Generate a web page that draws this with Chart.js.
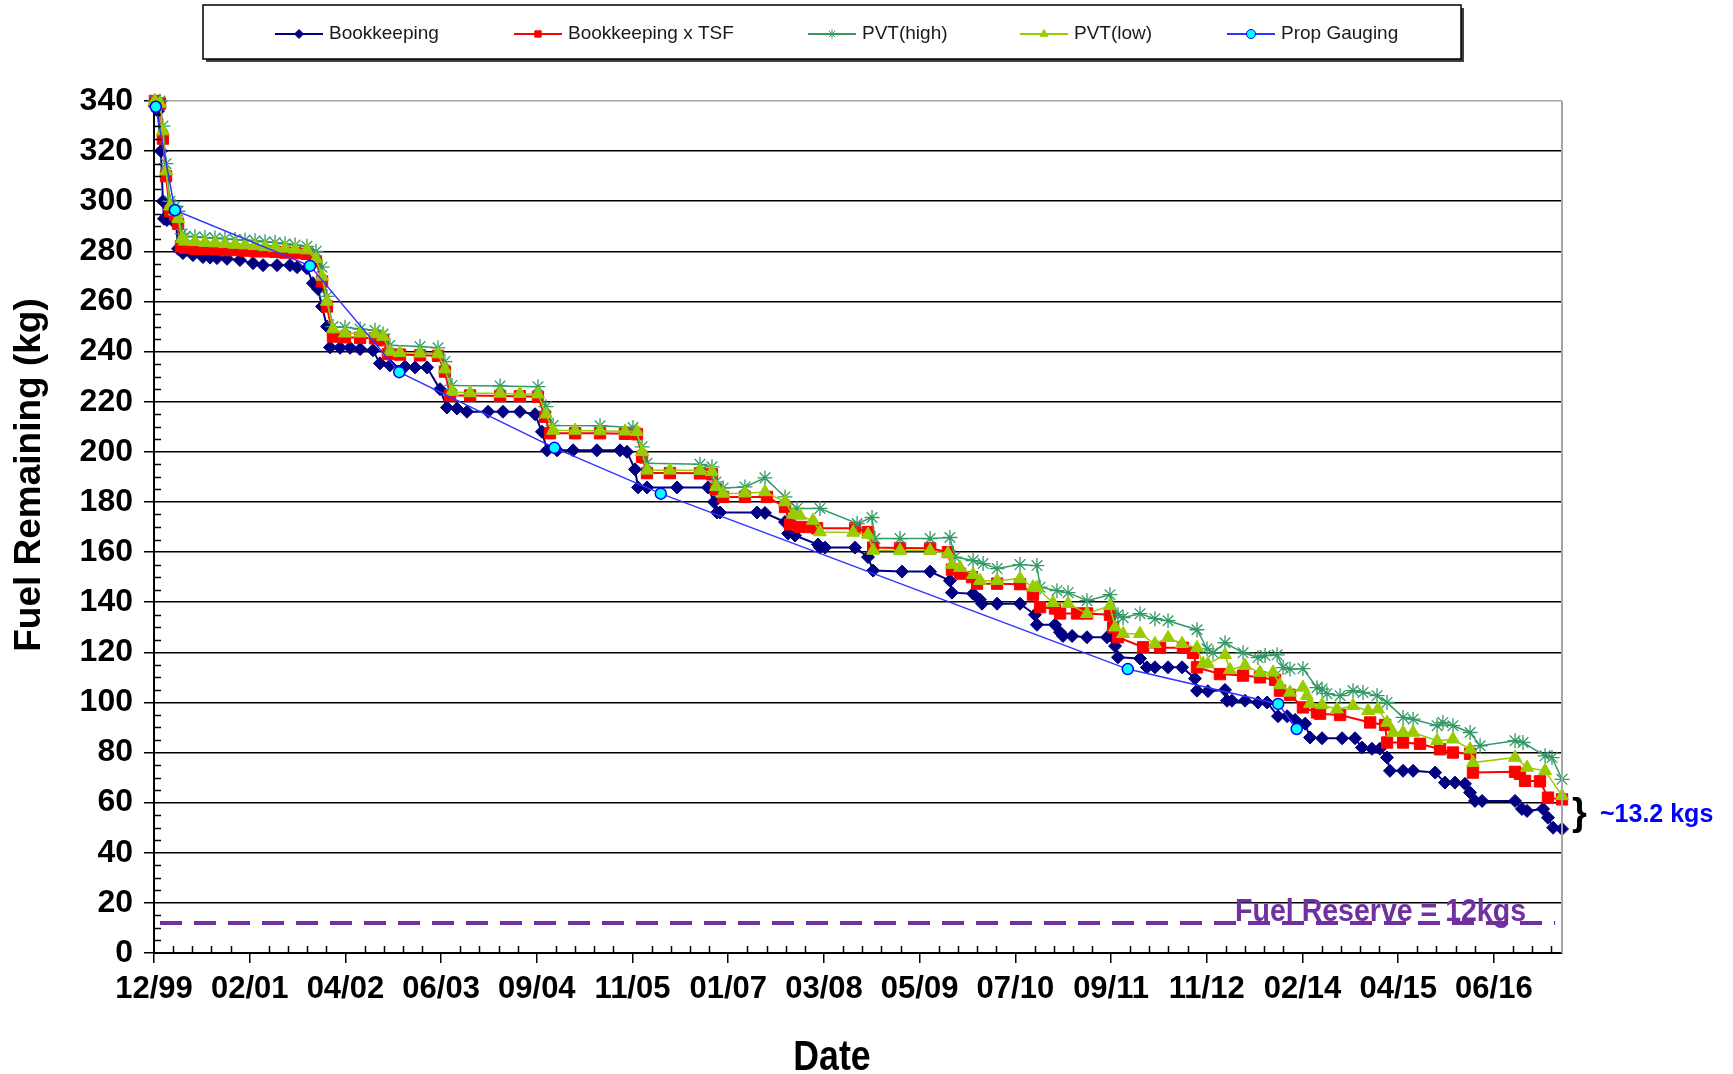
<!DOCTYPE html>
<html>
<head>
<meta charset="utf-8">
<title>Fuel Remaining</title>
<script src="https://cdn.jsdelivr.net/npm/chart.js@4.4.0/dist/chart.umd.min.js"></script>
<style>
    html, body { margin: 0; padding: 0; background: #ffffff; }
    #wrap { width: 1733px; height: 1074px; }
</style>
</head>
<body>
<div id="wrap"><canvas id="fuelChart" width="1733" height="1074"></canvas></div>
<script>
// x values are days counted from the 12/99 start of the date axis
const xTickLabels = ['12/99', '02/01', '04/02', '06/03', '09/04', '11/05', '01/07', '03/08',
    '05/09', '07/10', '09/11', '11/12', '02/14', '04/15', '06/16'];
const majorStepDays = 430;
const minorStepDays = 86;
const axisEndDays = 6326;

const bkDays = [4, 18, 31, 40, 45, 58, 81, 99, 108, 130, 175, 220, 252, 283, 328, 386, 445, 490, 553, 611,
    643, 687, 714, 737, 755, 777, 791, 836, 881, 926, 984, 1015, 1060, 1128, 1173, 1227, 1285, 1316, 1361, 1406,
    1501, 1568, 1644, 1712, 1743, 1766, 1811, 1883, 1990, 2094, 2125, 2161, 2175, 2215, 2350, 2489, 2516, 2530,
    2543, 2709, 2745, 2835, 2849, 2880, 2983, 2992, 3015, 3150, 3208, 3231, 3361, 3487, 3576, 3585, 3680, 3711,
    3720, 3788, 3891, 3958, 3967, 4048, 4071, 4084, 4125, 4192, 4282, 4309, 4318, 4331, 4430, 4461, 4497, 4556,
    4619, 4677, 4686, 4735, 4812, 4821, 4843, 4902, 4960, 5001, 5050, 5091, 5127, 5172, 5194, 5248, 5338, 5396,
    5427, 5472, 5508, 5540, 5553, 5612, 5657, 5756, 5800, 5845, 5890, 5913, 5935, 5967, 6115, 6146, 6169, 6241,
    6263, 6286, 6326];
const bkKg = [338, 336, 320, 300, 293, 292.5, 292.5, 292, 281, 279.3, 278.5, 277.7, 277.5, 277.3, 277, 276.5,
    275.3, 274.5, 274.5, 274.5, 273.7, 273.3, 267.3, 265, 258, 250, 241.7, 241.5, 241.5, 241, 240.5, 235.3, 234.5,
    234, 233.7, 233.7, 225, 217.7, 217.3, 216, 216, 216, 216, 215, 208, 200.6, 200.6, 200.6, 200.6, 200.6, 200,
    193, 185.8, 185.8, 185.8, 185.8, 180, 175.8, 175.8, 175.8, 175.6, 172, 167.4, 166.6, 163, 161.8, 161.8, 161.8,
    158, 152.6, 152.2, 152.2, 148.6, 143.8, 143.4, 141, 139.4, 139.4, 139.4, 135, 131, 131, 128, 126.5, 126.5,
    126, 126, 125.8, 122.5, 118, 117.5, 114, 114, 114, 114, 109.5, 104.7, 104.5, 105, 100.7, 100.7, 100.7, 100,
    100, 94.5, 94.5, 93, 91.5, 86, 85.7, 85.7, 85.7, 82, 81.5, 81.5, 78, 72.7, 72.7, 72.7, 72, 68, 68, 67.5, 64,
    60.7, 60.7, 60.7, 57.5, 56.7, 57.5, 54, 50, 49.5];

const tsfDays = [4, 27, 40, 54, 72, 94, 108, 121, 139, 184, 229, 274, 319, 364, 409, 454, 499, 544, 589, 634,
    687, 728, 755, 777, 804, 858, 926,
    993, 1029, 1051, 1105, 1195, 1276, 1307, 1330, 1420, 1555, 1644, 1725, 1757, 1779, 1892, 2004, 2116, 2170,
    2193, 2215, 2318, 2453, 2507, 2525, 2557, 2655, 2754, 2835, 2858, 2902, 2956, 2979, 3150, 3208, 3231, 3352,
    3487, 3567, 3585, 3621, 3675, 3698, 3788, 3891, 3949, 3981, 4048, 4071, 4147, 4192, 4295, 4309, 4331, 4444,
    4520, 4623, 4668, 4686, 4789, 4893, 4969, 5037, 5059, 5104, 5162, 5225, 5239, 5329, 5464, 5531, 5540, 5612,
    5688, 5778, 5836, 5913, 5926, 6115, 6137, 6160, 6227, 6263, 6326];
const tsfKg = [340, 339, 325, 310, 296, 294.5, 291, 282, 281.5, 281, 281, 280.8, 280.5, 280.5, 280.3, 280, 280,
    279.8, 279.5, 279.3, 279, 276, 268, 258, 246,
    245.7, 245.5, 245.3, 244.5, 239, 238.8, 238.5, 238.3, 232, 222.5, 222.5, 222.3, 222.2, 222, 214, 207.4, 207.4,
    207.4, 207.2, 207, 198, 191.5, 191.5, 191.4, 191, 185, 182, 182, 182, 178, 171, 170, 170, 169.5, 169.5, 168,
    161.8, 161.6, 161.5, 160, 153, 151.4, 150, 147.4, 147.4, 147.2, 143, 138, 137.5, 135.5, 135.5, 135.5, 135,
    130, 126, 122, 121.8, 121.8, 119.8, 114, 111.3, 110.7, 110, 109, 104.7, 103, 98, 96, 95.5, 95, 92, 91, 84, 84,
    83.5, 81.3, 80, 79.5, 72, 72.3, 71.5, 68.7, 68.5, 62, 61.3];

const pvtHighDays = [4, 27, 40, 54, 72, 94, 108, 126, 139, 184, 229, 274, 319, 364, 409, 454, 499, 544, 589,
    634, 687, 728, 755, 777, 804, 858,
    926, 993, 1029, 1060, 1195, 1276, 1307, 1339, 1555, 1725, 1761, 1793, 2004, 2152, 2193, 2215, 2453, 2507,
    2525, 2557, 2655, 2745, 2835, 2889, 2992, 3159, 3226, 3239, 3352, 3487, 3576, 3599, 3680, 3725, 3788, 3891,
    3967, 3981, 4057, 4107, 4192, 4295, 4331, 4354, 4430, 4497, 4556, 4686, 4731, 4758, 4812, 4893, 4960, 4992,
    5046, 5073, 5104, 5162, 5225, 5248, 5270, 5329, 5387, 5432, 5495, 5540, 5612, 5657, 5765, 5791, 5836, 5913,
    5958, 6115, 6151, 6250, 6281, 6326];
const pvtHighKg = [340, 340, 330, 315, 300, 298, 296, 287, 286, 285.8, 285.5, 285.3, 285, 284.7, 284.5, 284.2,
    283.8, 283.5, 283, 282.5, 282, 280, 273.7, 262, 250,
    249.7, 249, 248.5, 247, 242.5, 242, 241.5, 236, 226.5, 226.3, 226, 218, 210.5, 210.4, 209.7, 202, 195.4, 195,
    194, 188, 185.6, 186, 189.6, 182, 177.4, 177.4, 171.4, 173.8, 165.4, 165.4, 165.4, 165.8, 158, 156.6, 155.4,
    153.4, 155, 154.6, 146, 144.6, 143.8, 140.6, 143, 135, 133.8, 135.4, 133.4, 132.6, 129, 121.4, 119.8, 123.8,
    119.8, 117.9, 118.7, 119, 113.9, 113.3, 113.5, 105.9, 105.3, 103.5, 102.7, 104.7, 104, 102.7, 100, 94, 93.3,
    90.7, 92, 90.7, 88, 82.7, 84.7, 84, 78.7, 78, 69.3];

const pvtLowDays = [4, 27, 40, 54, 72, 94, 108, 126, 139, 184, 229, 274, 319, 364, 409, 454, 499, 544, 589,
    634, 687, 728, 755, 777, 804, 858,
    926, 993, 1029, 1060, 1105, 1195, 1276, 1307, 1339, 1420, 1555, 1644, 1725, 1761, 1793, 1892, 2004, 2116,
    2170, 2193, 2215, 2318, 2453, 2507, 2525, 2557, 2655, 2745, 2835, 2871, 2902, 2961, 2992, 3141, 3208, 3231,
    3352, 3487, 3567, 3585, 3621, 3680, 3711, 3788, 3891, 3949, 3967, 4039, 4107, 4192, 4295, 4318, 4354, 4430,
    4497, 4556, 4619, 4686, 4713, 4735, 4812, 4834, 4902, 4969, 5028, 5059, 5104, 5162, 5180, 5194, 5248, 5315,
    5387, 5455, 5499, 5540, 5567, 5612, 5657, 5765, 5836, 5913, 5926, 6115, 6169, 6250, 6326];
const pvtLowKg = [340, 339, 328, 312, 298, 296, 293, 285, 284, 283.8, 283.5, 283.3, 283, 282.7, 282.5, 282.2,
    281.8, 281.5, 281.2, 280.8, 280.5, 277, 270, 260, 249,
    247.3, 247.3, 247, 246, 240, 239.5, 239.3, 239, 233, 224, 223.5, 223.3, 223.2, 223, 215, 208.5, 208.5, 208.3,
    208.2, 208, 200, 192.6, 192.6, 192.5, 192, 186, 183.4, 183.5, 184, 180, 175, 174.6, 172.6, 168, 167.8, 167,
    160.6, 160.6, 160.6, 159.4, 155, 153.8, 151, 148.6, 148.6, 149.4, 146, 145.8, 139.8, 139.4, 135.4, 138.6, 130,
    127.4, 127.4, 123.4, 125.8, 123.4, 121.8, 115.4, 115.3, 119, 113, 114.7, 111.9, 112, 107, 104, 106, 102.7,
    99.5, 99, 97.3, 98.7, 96.7, 97.3, 92, 88, 88, 88, 84.7, 85.3, 81.3, 76, 78, 74, 72.7, 62.7];

const gaugeDays = [8, 94, 701, 1102, 1799, 2277, 4375, 5051, 5134];
const gaugeKg = [337.7, 296.4, 274.2, 231.8, 201.6, 183.3, 113.3, 99.4, 89.4];

const reserveDays = [27, 6295];
const reserveKg = [12, 12];
const reserveLabel = 'Fuel Reserve = 12kgs';
const gapLabel = '~13.2 kgs';

const FONT = "'Liberation Sans', Arial, sans-serif";

function toPoints(days, kg) {
    return days.map((d, i) => ({ x: d, y: kg[i] }));
}

// legend box, axis titles, minor ticks and the text notes drawn on the canvas
const decorations = {
    id: 'decorations',
    afterDraw(chart) {
        const ctx = chart.ctx;
        const area = chart.chartArea;
        const xs = chart.scales.x;
        const ys = chart.scales.y;

        ctx.save();
        // right plot border
        ctx.strokeStyle = '#a6a6a6';
        ctx.lineWidth = 2;
        ctx.beginPath();
        ctx.moveTo(area.right, area.top);
        ctx.lineTo(area.right, area.bottom);
        ctx.stroke();

        // minor ticks inside the axes
        ctx.strokeStyle = '#000';
        ctx.lineWidth = 1.5;
        ctx.beginPath();
        for (let v = 5; v < 340; v += 5) {
            if (v % 20 === 0) continue;
            const py = Math.round(ys.getPixelForValue(v)) + 0.5;
            ctx.moveTo(area.left, py);
            ctx.lineTo(area.left + 7, py);
        }
        for (let d = minorStepDays; d <= axisEndDays; d += minorStepDays) {
            if (d % majorStepDays === 0) continue;
            const px = Math.round(xs.getPixelForValue(d)) + 0.5;
            ctx.moveTo(px, area.bottom);
            ctx.lineTo(px, area.bottom - 7);
        }
        ctx.stroke();

        // axis titles
        ctx.fillStyle = '#000';
        ctx.textAlign = 'center';
        ctx.textBaseline = 'middle';
        ctx.save();
        ctx.translate(30, 475);
        ctx.rotate(-Math.PI / 2);
        ctx.font = 'bold 37px ' + FONT;
        ctx.fillText('Fuel Remaining (kg)', 0, 0);
        ctx.restore();

        ctx.save();
        ctx.translate(832, 1058);
        ctx.scale(0.85, 1);
        ctx.font = 'bold 42px ' + FONT;
        ctx.fillText('Date', 0, 0);
        ctx.restore();

        // fuel reserve note sitting on the dashed line
        ctx.save();
        ctx.fillStyle = '#7030A0';
        ctx.textAlign = 'right';
        ctx.textBaseline = 'alphabetic';
        ctx.translate(area.right - 36, ys.getPixelForValue(reserveKg[0]) - 2);
        ctx.scale(0.92, 1);
        ctx.font = 'bold 31px ' + FONT;
        ctx.fillText(reserveLabel, 0, 0);
        ctx.restore();

        // brace between the two end values
        const yTop = ys.getPixelForValue(tsfKg[tsfKg.length - 1]);
        const yBot = ys.getPixelForValue(bkKg[bkKg.length - 1]);
        const yMid = (yTop + yBot) / 2;
        ctx.textAlign = 'left';
        ctx.textBaseline = 'middle';
        ctx.fillStyle = '#000';
        ctx.font = 'bold 38px ' + FONT;
        ctx.fillText('}', area.right + 10, yMid);
        ctx.fillStyle = '#0000ff';
        ctx.font = 'bold 25px ' + FONT;
        ctx.fillText(gapLabel, area.right + 38, yMid + 1);

        drawLegend(chart, ctx);
        ctx.restore();
    }
};

function drawLegend(chart, ctx) {
    const box = { x: 203, y: 5, w: 1258, h: 54 };
    const itemX = [275, 514, 808, 1020, 1227];
    const midY = box.y + box.h / 2 + 2;

    ctx.fillStyle = '#404040';
    ctx.fillRect(box.x + 3, box.y + 3, box.w, box.h);
    ctx.fillStyle = '#fff';
    ctx.fillRect(box.x, box.y, box.w, box.h);
    ctx.strokeStyle = '#000';
    ctx.lineWidth = 1.5;
    ctx.strokeRect(box.x, box.y, box.w, box.h);

    ctx.font = '19px ' + FONT;
    ctx.textAlign = 'left';
    ctx.textBaseline = 'middle';
    itemX.forEach((x0, i) => {
        const ds = chart.data.datasets[i];
        ctx.strokeStyle = ds.borderColor;
        ctx.lineWidth = 2;
        ctx.beginPath();
        ctx.moveTo(x0, midY);
        ctx.lineTo(x0 + 48, midY);
        ctx.stroke();

        ctx.fillStyle = ds.pointBackgroundColor || ds.backgroundColor;
        ctx.strokeStyle = ds.pointBorderColor || ds.borderColor;
        ctx.lineWidth = 1;
        if (Chart.helpers && Chart.helpers.drawPoint) {
            Chart.helpers.drawPoint(ctx, {
                pointStyle: ds.pointStyle, rotation: 0, radius: 4.5, borderWidth: 1
            }, x0 + 24, midY);
        }

        ctx.fillStyle = '#1a1a1a';
        ctx.fillText(ds.label, x0 + 54, midY);
    });
}

const tickFont = { family: FONT, size: 31, weight: 'bold' };

new Chart(document.getElementById('fuelChart'), {
    type: 'line',
    data: {
        datasets: [
            {
                label: 'Bookkeeping',
                data: toPoints(bkDays, bkKg),
                borderColor: '#000080',
                backgroundColor: '#000080',
                borderWidth: 2,
                pointStyle: 'rectRot',
                pointRadius: 6.5,
                pointBorderWidth: 1,
                order: 4
            },
            {
                label: 'Bookkeeping x TSF',
                data: toPoints(tsfDays, tsfKg),
                borderColor: '#ff0000',
                backgroundColor: '#ff0000',
                borderWidth: 2,
                pointStyle: 'rect',
                pointRadius: 8,
                pointBorderWidth: 1,
                order: 3
            },
            {
                label: 'PVT(high)',
                data: toPoints(pvtHighDays, pvtHighKg),
                borderColor: '#339966',
                backgroundColor: '#339966',
                borderWidth: 1.5,
                pointStyle: 'star',
                pointRadius: 7.5,
                pointBorderWidth: 1.3,
                order: 2
            },
            {
                label: 'PVT(low)',
                data: toPoints(pvtLowDays, pvtLowKg),
                borderColor: '#99cc00',
                backgroundColor: '#99cc00',
                borderWidth: 1.5,
                pointStyle: 'triangle',
                pointRadius: 7.5,
                pointBorderWidth: 1,
                order: 1
            },
            {
                label: 'Prop Gauging',
                data: toPoints(gaugeDays, gaugeKg),
                borderColor: '#3333ff',
                backgroundColor: '#00ffff',
                pointBackgroundColor: '#00ffff',
                pointBorderColor: '#0000ff',
                borderWidth: 1.5,
                pointStyle: 'circle',
                pointRadius: 5.5,
                pointBorderWidth: 1.5,
                order: 0
            },
            {
                label: 'Fuel Reserve',
                data: toPoints(reserveDays, reserveKg),
                borderColor: '#7030a0',
                borderWidth: 4,
                borderDash: [22, 12],
                pointRadius: 0,
                order: 5
            }
        ]
    },
    options: {
        responsive: false,
        animation: false,
        events: [],
        clip: false,
        layout: {
            padding: { top: 101, right: 171, bottom: 0, left: 0 }
        },
        plugins: {
            legend: { display: false },
            tooltip: { enabled: false }
        },
        elements: {
            line: { tension: 0 }
        },
        scales: {
            x: {
                type: 'linear',
                min: 0,
                max: axisEndDays,
                bounds: 'data',
                ticks: {
                    autoSkip: false,
                    maxRotation: 0,
                    padding: 8,
                    color: '#000',
                    font: tickFont,
                    callback: value => xTickLabels[Math.round(value / majorStepDays)] || ''
                },
                // one major tick per label, every 430 days from the axis start
                afterBuildTicks(scale) {
                    scale.ticks = xTickLabels.map((_, i) => ({ value: i * majorStepDays }));
                },
                grid: {
                    drawOnChartArea: false,
                    drawTicks: true,
                    tickLength: 10,
                    color: '#000',
                    lineWidth: 1.5
                },
                border: { color: '#000', width: 2 },
                afterFit(scale) { scale.height = 121; }
            },
            y: {
                min: 0,
                max: 340,
                ticks: {
                    stepSize: 20,
                    padding: 11,
                    color: '#000',
                    font: { family: FONT, size: 32, weight: 'bold' }
                },
                grid: {
                    color: ctx => (ctx.tick && ctx.tick.value === 340 ? '#a6a6a6' : '#000'),
                    tickColor: '#000',
                    lineWidth: 1.5,
                    tickLength: 10
                },
                border: { color: '#000', width: 2 },
                afterFit(scale) { scale.width = 154; }
            }
        }
    },
    plugins: [decorations]
});
</script>
</body>
</html>
